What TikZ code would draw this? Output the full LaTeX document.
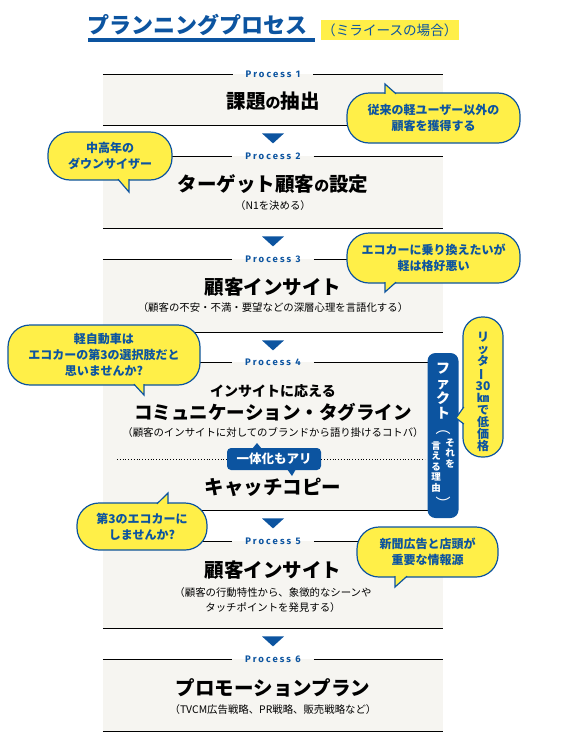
\documentclass[tikz,border=0pt]{standalone}
\usepackage{fontspec}
\setmainfont{Noto Sans CJK JP}
\newfontfamily\procfont[LetterSpace=22]{Fira Sans}
\usetikzlibrary{calc}

\definecolor{mbblue}{RGB}{12,84,160}
\definecolor{mbyellow}{RGB}{255,239,72}
\definecolor{mbgray}{RGB}{246,245,241}

\tikzset{
  panel/.style={fill=mbgray, minimum width=340pt, anchor=north, inner sep=0pt},
  proclabel/.style={text=mbblue, font=\procfont\bfseries\fontsize{9.5}{9.5}\selectfont, inner xsep=13pt, inner ysep=2pt},
  ptitle/.style={font=\bfseries\fontsize{19.5}{19.5}\selectfont, inner sep=0pt},
  psub/.style={font=\fontsize{10.4}{15}\selectfont, align=center, inner sep=0pt},
  bubble/.style={fill=mbyellow, draw=mbblue, line width=1.2pt, rounded corners=22pt, text=mbblue,
    font=\bfseries\fontsize{12}{16}\selectfont, align=center, inner sep=0pt},
  tailline/.style={draw=mbblue, line width=1.2pt, line join=miter},
  vtext/.style={align=center, inner sep=0pt},
}
\newcommand{\smallno}{{\fontsize{15}{15}\selectfont の}}

\begin{document}
\begin{tikzpicture}[x=1pt,y=1pt,yscale=-1]
\useasboundingbox (0,0) rectangle (578,742);

% Title
\node[anchor=west, text=mbblue, font=\bfseries\fontsize{22}{22}\selectfont, inner sep=0pt] (title) at (87,25) {プランニングプロセス};
\draw[mbblue, line width=3.5pt] (88,40) -- (315,40);
\node[anchor=west, fill=mbyellow, text=mbblue, font=\fontsize{13.6}{13.6}\selectfont, inner xsep=1pt, minimum height=15pt] (subtitle) at (321,30) {（ミライースの場合）};

% Panels
\node[panel, minimum height=51pt] (p1) at (273,74) {};
\node[panel, minimum height=72pt] (p2) at (273,156) {};
\node[panel, minimum height=73pt] (p3) at (273,259) {};
\node[panel, minimum height=148pt] (p4) at (273,362) {};
\node[panel, minimum height=87pt] (p5) at (273,541) {};
\node[panel, minimum height=72pt] (p6) at (273,659) {};

\foreach \p/\n in {p1/1,p2/2,p3/3,p4/4,p5/5,p6/6}{
  \node[proclabel] (l\n) at (\p.north) {Process \n};
  \draw[line width=1pt] (\p.north west) -- (l\n.west);
  \draw[line width=1pt] (l\n.east) -- (\p.north east);
  \draw[line width=1pt] (\p.south west) -- (\p.south east);
}

% Step marks
\foreach \p in {p1,p2,p3,p4,p5}
  \fill[mbblue] ($(\p.south)+(-11,8)$) -- ($(\p.south)+(11,8)$) -- ($(\p.south)+(0,18)$) -- cycle;

% Text Nodes
\node[ptitle] (t1) at (273,101) {課題\smallno 抽出};
\node[ptitle] (t2) at (273,184) {ターゲット顧客\smallno 設定};
\node[psub] (s2) at (273,206) {（N1を決める）};
\node[ptitle] (t3) at (273,287) {顧客インサイト};
\node[psub] (s3) at (273,308) {（顧客の不安・不満・要望などの深層心理を言語化する）};
\node[font=\bfseries\fontsize{14}{14}\selectfont, inner sep=0pt] (t4a) at (273,391) {インサイトに応える};
\node[font=\bfseries\fontsize{18.5}{18.5}\selectfont, inner sep=0pt] (t4b) at (273,412) {コミュニケーション・タグライン};
\node[psub] (s4) at (273,433) {（顧客のインサイトに対してのブランドから語り掛けるコトバ）};
\coordinate (d4w) at (117,459);
\coordinate (d4e) at (425,459);
\draw[dotted, line width=0.8pt] (d4w) -- (d4e);
\node[fill=mbblue, text=white, rounded corners=4pt, minimum width=94pt, minimum height=22pt, inner sep=0pt,
  font=\bfseries\fontsize{12.5}{12.5}\selectfont] (both) at (274,459) {一体化もアリ};
\fill[mbblue] (252,449) -- (257,443) -- (262,449) -- cycle;
\fill[mbblue] (287,469) -- (292,476) -- (296,469) -- cycle;
\node[ptitle] (t4c) at (273,487) {キャッチコピー};
\node[ptitle] (t5) at (273,570) {顧客インサイト};
\node[psub] (s5) at (273,600) {（顧客の行動特性から、象徴的なシーンや\\タッチポイントを発見する）};
\node[ptitle] (t6) at (273,688) {プロモーションプラン};
\node[psub] (s6) at (273,710) {（TVCM広告戦略、PR戦略、販売戦略など）};

% Fact box
\node[fill=mbblue, rounded corners=8pt, minimum width=31pt, minimum height=165pt, inner sep=0pt] (fact) at (443,435.5) {};
\node[vtext, text=white, font=\bfseries\fontsize{14}{15}\selectfont] (factw) at (443,391) {フ\\ァ\\ク\\ト};
\node[vtext, text=white, font=\fontsize{15}{15}\selectfont] (fpo) at (443,433) {︵};
\node[vtext, text=white, font=\bfseries\fontsize{9.5}{10.5}\selectfont] (fr) at (450,453) {そ\\れ\\を};
\node[vtext, text=white, font=\bfseries\fontsize{9.5}{10.5}\selectfont] (fl) at (436,467) {言\\え\\る\\理\\由};
\node[vtext, text=white, font=\fontsize{15}{15}\selectfont] (fpc) at (443,503) {︶};

% Bubbles
\node[bubble, minimum width=40pt, minimum height=140pt, rounded corners=19pt] (bv) at (483,387) {};
\fill[mbyellow] (463.8,407) -- (456,418) -- (463.8,424) -- cycle;
\draw[tailline] (463.8,407) -- (456,418) -- (463.8,424);
\node[vtext, text=mbblue, font=\bfseries\fontsize{12}{12}\selectfont] (bvt) at (483,392)
  {リ\\ッ\\タ\\\rotatebox[origin=c]{90}{ー}\\30\\㎞\\で\\低\\価\\格};

\node[bubble, minimum width=173pt, minimum height=50pt] (b1) at (433.5,118) {従来の軽ユーザー以外の\\顧客を獲得する};
\fill[mbyellow] (385,93.8) -- (385,84) -- (396,93.8) -- cycle;
\draw[tailline] (385,93.8) -- (385,84) -- (396,93.8);

\node[bubble, minimum width=124pt, minimum height=48pt] (b2) at (110,156) {中高年の\\ダウンサイザー};
\fill[mbyellow] (118,179.2) -- (129,192) -- (129,179.2) -- cycle;
\draw[tailline] (118,179.2) -- (129,192) -- (129,179.2);

\node[bubble, minimum width=173pt, minimum height=50pt] (b3) at (433.5,258) {エコカーに乗り換えたいが\\軽は格好悪い};
\fill[mbyellow] (385,282.2) -- (385,292) -- (396,282.2) -- cycle;
\draw[tailline] (385,282.2) -- (385,292) -- (396,282.2);

\node[bubble, minimum width=192pt, minimum height=60pt] (b4) at (104,355) {軽自動車は\\エコカーの第3の選択肢だと\\思いませんか?};
\fill[mbyellow] (134,384.2) -- (144,395) -- (144,384.2) -- cycle;
\draw[tailline] (134,384.2) -- (144,395) -- (144,384.2);

\node[bubble, minimum width=130pt, minimum height=47pt] (b5) at (142,526.5) {第3のエコカーに\\しませんか?};
\fill[mbyellow] (157,503.8) -- (168,493) -- (168,503.8) -- cycle;
\draw[tailline] (157,503.8) -- (168,493) -- (168,503.8);

\node[bubble, minimum width=141pt, minimum height=50pt] (b6) at (427.5,552) {新聞広告と店頭が\\重要な情報源};
\fill[mbyellow] (395,576.2) -- (395,587) -- (407,576.2) -- cycle;
\draw[tailline] (395,576.2) -- (395,587) -- (407,576.2);

\end{tikzpicture}
\end{document}
